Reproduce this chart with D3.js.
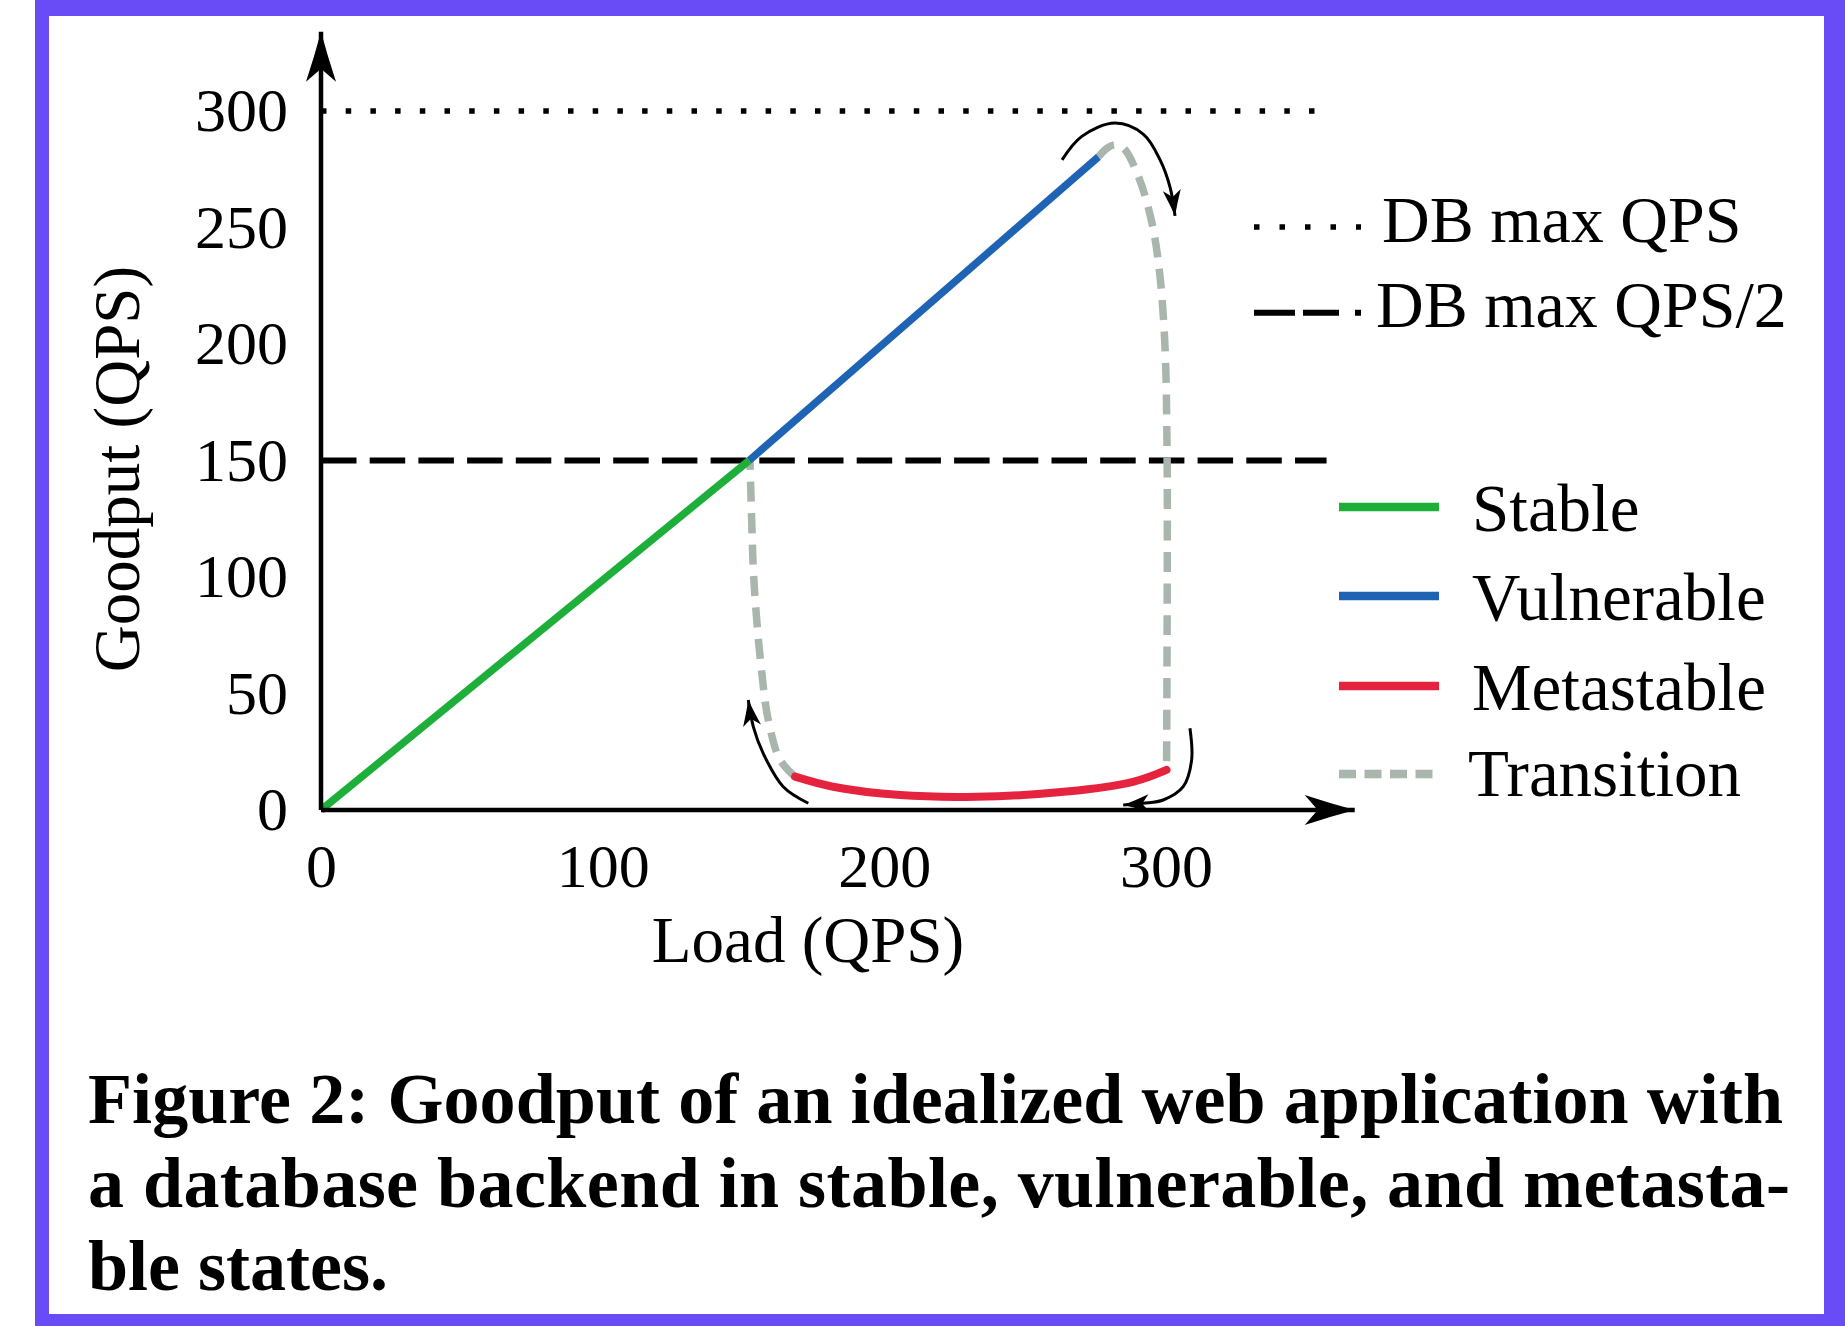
<!DOCTYPE html>
<html>
<head>
<meta charset="utf-8">
<script src="https://cdn.jsdelivr.net/npm/d3@7"></script>
<style>
  html, body { margin: 0; padding: 0; background: #fff; }
  svg { display: block; }
  text { font-family: "Liberation Serif", "DejaVu Serif", serif; fill: #000; }
</style>
</head>
<body>
<svg id="fig" width="1845" height="1326"></svg>
<script>
// ---- tick values (QPS) ----
const xTicks = [0, 100, 200, 300];
const yTicks = [0, 50, 100, 150, 200, 250, 300];

// ---- reference levels ----
const dbMaxQps = 300;
const dbHalfQps = 150;
const refLineEnd = 357;          // load where the reference lines stop
const axisEndX = 367;            // load at the x-axis arrow tip
const axisEndY = 334;            // goodput at the y-axis arrow tip

// ---- state curves, [load, goodput] ----
const stable = [[0, 0], [152, 150]];
const vulnerable = [[152, 150], [276, 280.3]];
const metastable = [[168.3, 14.3], [181.8, 10], [205.6, 6.4], [232.8, 5.7], [264.7, 7.9], [288.3, 12.1], [300.2, 17.2]];
const transitionCollapse = [[276, 280.3], [279, 284], [282, 285.5], [285, 284], [290.5, 271], [295, 252], [297.6, 232],
                            [299.6, 200], [300.4, 150], [300.4, 80], [300.2, 17.2]];
const transitionRecover = [[168.3, 14.3], [163, 21.5], [158.8, 38.6], [156.5, 58.8], [154.7, 81.5], [153.5, 103],
                           [152.9, 124.5], [152.3, 150]];

// ---- annotation arrows, [load, goodput] ----
const arrowOver = [[263.1, 279], [270, 289], [281.9, 294.8], [292, 290], [297.9, 279], [301.5, 267], [303.2, 255]];
const arrowUp = [[173, 2.9], [164.1, 10], [157, 24.3], [153.5, 35.7], [151.7, 47.2]];
const arrowBack = [[308.5, 35.1], [309.1, 21.5], [306.1, 10], [299, 4.3], [291.9, 2.9], [284.8, 2.1]];

// ---- legend ----
const refLegend = ["DB max QPS", "DB max QPS/2"];
const stateLegend = ["Stable", "Vulnerable", "Metastable", "Transition"];

// ---- caption ----
const captionLines = [
  "Figure 2: Goodput of an idealized web application with",
  "a database backend in stable, vulnerable, and metasta-",
  "ble states."
];

const colors = { stable: "#1daf3a", vulnerable: "#1f64b4", metastable: "#e5233e", transition: "#a9b6ab" };
const frameColor = "#6a4cf6";

const svg = d3.select("#fig");

// frame
svg.append("rect").attr("x", 35).attr("y", 0).attr("width", 1810).attr("height", 1326).attr("fill", frameColor);
svg.append("rect").attr("x", 49).attr("y", 16).attr("width", 1775).attr("height", 1298).attr("fill", "#fff");

const x = d3.scaleLinear().domain([0, 300]).range([321, 1166]);
const y = d3.scaleLinear().domain([0, 300]).range([810, 111]);

// arrowheads
const defs = svg.append("defs");
function stealth(id, len, half, notch) {
  defs.append("marker")
    .attr("id", id)
    .attr("markerUnits", "userSpaceOnUse")
    .attr("viewBox", `${-len - 2} ${-half - 2} ${len + 4} ${2 * half + 4}`)
    .attr("markerWidth", len + 4).attr("markerHeight", 2 * half + 4)
    .attr("refX", 0).attr("refY", 0)
    .attr("orient", "auto")
    .append("path")
    .attr("d", `M0,0 Q${-len * 0.5},${-half * 0.45} ${-len},${-half} L${-notch},0 L${-len},${half} Q${-len * 0.5},${half * 0.45} 0,0 Z`)
    .attr("fill", "#000");
}
stealth("headBig", 50, 15, 37);
stealth("headSmall", 26, 9, 19);

const line = d3.line().x(d => x(d[0])).y(d => y(d[1]));
const smooth = d3.line().x(d => x(d[0])).y(d => y(d[1])).curve(d3.curveCatmullRom.alpha(0.5));

const plot = svg.append("g");

// reference levels
plot.append("path")
  .attr("d", line([[0, dbMaxQps], [refLineEnd, dbMaxQps]]))
  .attr("stroke", "#000").attr("stroke-width", 5.5).attr("fill", "none")
  .attr("stroke-dasharray", "5.5 19.2");
plot.append("path")
  .attr("d", line([[0, dbHalfQps], [refLineEnd, dbHalfQps]]))
  .attr("stroke", "#000").attr("stroke-width", 6).attr("fill", "none")
  .attr("stroke-dasharray", "35.5 13.2");

// transitions
[transitionCollapse, transitionRecover].forEach(pts => {
  plot.append("path")
    .attr("d", smooth(pts))
    .attr("stroke", colors.transition).attr("stroke-width", 7.5).attr("fill", "none")
    .attr("stroke-dasharray", "20 11.5");
});

// states
plot.append("path").attr("d", line(stable))
  .attr("stroke", colors.stable).attr("stroke-width", 7.5).attr("fill", "none");
plot.append("path").attr("d", line(vulnerable))
  .attr("stroke", colors.vulnerable).attr("stroke-width", 7.5).attr("fill", "none");
plot.append("path").attr("d", smooth(metastable))
  .attr("stroke", colors.metastable).attr("stroke-width", 8).attr("fill", "none")
  .attr("stroke-linecap", "round");

// annotation arrows
[arrowOver, arrowUp, arrowBack].forEach(pts => {
  plot.append("path")
    .attr("d", smooth(pts))
    .attr("stroke", "#000").attr("stroke-width", 3).attr("fill", "none")
    .attr("marker-end", "url(#headSmall)");
});

// axes with arrow tips
svg.append("path")
  .attr("d", line([[0, 0], [axisEndX, 0]]))
  .attr("stroke", "#000").attr("stroke-width", 4.5).attr("marker-end", "url(#headBig)");
svg.append("path")
  .attr("d", line([[0, 0], [0, axisEndY]]))
  .attr("stroke", "#000").attr("stroke-width", 4.5).attr("marker-end", "url(#headBig)");

// tick labels
const xAxis = svg.append("g").attr("transform", `translate(0,${y(0)})`)
  .call(d3.axisBottom(x).tickValues(xTicks).tickSize(0).tickPadding(33).tickFormat(d3.format("d")));
const yAxis = svg.append("g").attr("transform", `translate(${x(0)},0)`)
  .call(d3.axisLeft(y).tickValues(yTicks).tickSize(0).tickPadding(33).tickFormat(d3.format("d")));
[xAxis, yAxis].forEach(g => {
  g.select(".domain").remove();
  g.selectAll("text").attr("font-size", 62).attr("font-family", "Liberation Serif, serif").attr("fill", "#000");
});

// axis titles
svg.append("text")
  .attr("x", 808).attr("y", 962)
  .attr("text-anchor", "middle").attr("font-size", 65)
  .text("Load (QPS)");
svg.append("text")
  .attr("transform", "translate(139,469) rotate(-90)")
  .attr("text-anchor", "middle").attr("font-size", 65)
  .text("Goodput (QPS)");

// legend: reference levels
const refRows = [
  { label: refLegend[0], y: 227, ty: 242, tx: 1382, dash: "5.5 20", width: 5.5 },
  { label: refLegend[1], y: 312.7, ty: 327, tx: 1376, dash: "41 8 36 16 6 100", width: 6 }
];
refRows.forEach(r => {
  svg.append("line")
    .attr("x1", 1254).attr("x2", 1361).attr("y1", r.y).attr("y2", r.y)
    .attr("stroke", "#000").attr("stroke-width", r.width).attr("stroke-dasharray", r.dash);
  svg.append("text").attr("x", r.tx).attr("y", r.ty).attr("font-size", 66).text(r.label);
});

// legend: states
const stateRows = [
  { label: stateLegend[0], color: colors.stable, y: 507, ty: 531, tx: 1472 },
  { label: stateLegend[1], color: colors.vulnerable, y: 596, ty: 620, tx: 1472 },
  { label: stateLegend[2], color: colors.metastable, y: 686, ty: 710, tx: 1472 },
  { label: stateLegend[3], color: colors.transition, y: 774, ty: 796, tx: 1468, dash: "17 8.5" }
];
stateRows.forEach(r => {
  const ln = svg.append("line")
    .attr("x1", 1339).attr("x2", r.dash ? 1434 : 1439).attr("y1", r.y).attr("y2", r.y)
    .attr("stroke", r.color).attr("stroke-width", 8.5);
  if (r.dash) ln.attr("stroke-dasharray", r.dash);
  svg.append("text").attr("x", r.tx).attr("y", r.ty).attr("font-size", 67).text(r.label);
});

// caption
const capBase = [1123, 1207, 1290];
const capWidth = [1695, 1702, null];
captionLines.forEach((t, i) => {
  const el = svg.append("text")
    .attr("x", 88).attr("y", capBase[i])
    .attr("font-size", 72).attr("font-weight", "bold")
    .text(t);
  if (capWidth[i]) el.attr("textLength", capWidth[i]).attr("lengthAdjust", "spacing");
});
</script>
</body>
</html>
